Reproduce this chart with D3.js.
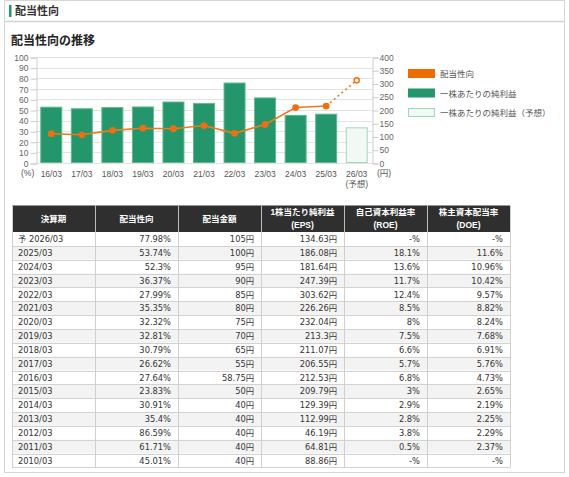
<!DOCTYPE html>
<html>
<head>
<meta charset="utf-8">
<script src="https://cdn.jsdelivr.net/npm/d3@7"></script>
<style>
  body { margin: 0; background: #fff; }
  svg text { font-family: "Liberation Sans", "Noto Sans CJK JP", sans-serif; }
  svg text.cell { font-family: "DejaVu Sans", "Noto Sans CJK JP", sans-serif; }
</style>
</head>
<body>
<div id="chart"></div>
<script>
// チャートのデータ
const periods = ["16/03", "17/03", "18/03", "19/03", "20/03", "21/03", "22/03", "23/03", "24/03", "25/03", "26/03"];
const payoutRatio = [27.64, 26.62, 30.79, 32.81, 32.32, 35.35, 27.99, 36.37, 52.3, 53.74, 77.98];
const epsValues = [212.53, 206.55, 211.07, 213.3, 232.04, 226.26, 303.62, 247.39, 181.64, 186.08, 134.63];
const leftTicks = [0, 10, 20, 30, 40, 50, 60, 70, 80, 90, 100];
const rightTicks = [0, 50, 100, 150, 200, 250, 300, 350, 400];
const legendLabels = ["配当性向", "一株あたりの純利益", "一株あたりの純利益（予想）"];

// 表のデータ
const tableHeaders = [["決算期"], ["配当性向"], ["配当金額"], ["1株当たり純利益", "(EPS)"], ["自己資本利益率", "(ROE)"], ["株主資本配当率", "(DOE)"]];
const tPeriods = ["予 2026/03", "2025/03", "2024/03", "2023/03", "2022/03", "2021/03", "2020/03", "2019/03", "2018/03", "2017/03", "2016/03", "2015/03", "2014/03", "2013/03", "2012/03", "2011/03", "2010/03"];
const tPayout = ["77.98%", "53.74%", "52.3%", "36.37%", "27.99%", "35.35%", "32.32%", "32.81%", "30.79%", "26.62%", "27.64%", "23.83%", "30.91%", "35.4%", "86.59%", "61.71%", "45.01%"];
const tDividend = ["105円", "100円", "95円", "90円", "85円", "80円", "75円", "70円", "65円", "55円", "58.75円", "50円", "40円", "40円", "40円", "40円", "40円"];
const tEps = ["134.63円", "186.08円", "181.64円", "247.39円", "303.62円", "226.26円", "232.04円", "213.3円", "211.07円", "206.55円", "212.53円", "209.79円", "129.39円", "112.99円", "46.19円", "64.81円", "88.86円"];
const tRoe = ["-%", "18.1%", "13.6%", "11.7%", "12.4%", "8.5%", "8%", "7.5%", "6.6%", "5.7%", "6.8%", "3%", "2.9%", "2.8%", "3.8%", "0.5%", "-%"];
const tDoe = ["-%", "11.6%", "10.96%", "10.42%", "9.57%", "8.82%", "8.24%", "7.68%", "6.91%", "5.76%", "4.73%", "2.65%", "2.19%", "2.25%", "2.29%", "2.37%", "-%"];

const width = 569;
const height = 477;

const svg = d3.select("#chart").append("svg")
    .attr("width", width)
    .attr("height", height);

// 外枠
svg.append("rect")
    .attr("x", 4.5).attr("y", 0.5)
    .attr("width", 560).attr("height", 472)
    .attr("fill", "#fff")
    .attr("stroke", "#d6d6d6");

// 見出し
svg.append("rect")
    .attr("x", 9).attr("y", 5)
    .attr("width", 2.5).attr("height", 12)
    .attr("fill", "#1f9a6c");
svg.append("text")
    .attr("x", 15).attr("y", 15)
    .style("font-size", "11px")
    .style("font-weight", "bold")
    .style("fill", "#333")
    .text("配当性向");
svg.append("line")
    .attr("x1", 5).attr("x2", 564)
    .attr("y1", 21.5).attr("y2", 21.5)
    .attr("stroke", "#d4d4d4")
    .attr("stroke-width", 1.5);

svg.append("text")
    .attr("x", 11).attr("y", 45)
    .style("font-size", "12px")
    .style("font-weight", "bold")
    .style("fill", "#222")
    .text("配当性向の推移");

// チャート領域
const plot = {left: 36, right: 372, top: 57, bottom: 163};

const x = d3.scaleBand()
    .domain(periods)
    .range([plot.left, plot.right])
    .paddingInner(0.28)
    .paddingOuter(0.14);

const yLeft = d3.scaleLinear().domain([0, 100]).range([plot.bottom, plot.top]);
const yRight = d3.scaleLinear().domain([0, 400]).range([plot.bottom, plot.top]);

// 横の格線
svg.append("g")
    .selectAll("line")
    .data(leftTicks)
    .join("line")
    .attr("x1", plot.left).attr("x2", plot.right)
    .attr("y1", d => Math.round(yLeft(d)) + 0.5)
    .attr("y2", d => Math.round(yLeft(d)) + 0.5)
    .attr("stroke", "#e3e3e3");

// 左軸
const leftAxis = svg.append("g")
    .attr("transform", `translate(${plot.left + 0.5},0.5)`)
    .call(d3.axisLeft(yLeft).tickValues(leftTicks).tickSize(6).tickPadding(2));
leftAxis.select(".domain").attr("stroke", "#ccc");
leftAxis.selectAll(".tick line").attr("stroke", "#ccc");
leftAxis.selectAll(".tick text")
    .style("font-size", "8.5px")
    .style("fill", "#666")
    .attr("dy", "0.32em");

// 右軸
const rightAxis = svg.append("g")
    .attr("transform", `translate(${plot.right + 0.5},0.5)`)
    .call(d3.axisRight(yRight).tickValues(rightTicks).tickSize(6).tickPadding(1));
rightAxis.select(".domain").attr("stroke", "#ccc");
rightAxis.selectAll(".tick line").attr("stroke", "#ccc");
rightAxis.selectAll(".tick text")
    .style("font-size", "8.5px")
    .style("fill", "#666")
    .attr("dy", "0.32em");

// 棒グラフ (EPS)
const last = periods.length - 1;
svg.append("g")
    .selectAll("rect")
    .data(epsValues)
    .join("rect")
    .attr("x", (d, i) => x(periods[i]) + 0.5)
    .attr("y", d => yRight(d) + 0.5)
    .attr("width", x.bandwidth() - 1)
    .attr("height", d => yRight(0) - yRight(d) - 1)
    .attr("fill", (d, i) => i === last ? "#f1f9f5" : "#23966c")
    .attr("stroke", (d, i) => i === last ? "#9fd6bd" : "#5cb893")
    .attr("stroke-width", 1);

// 配当性向の線
const cx = p => x(p) + x.bandwidth() / 2;
const line = d3.line()
    .x((d, i) => cx(periods[i]))
    .y(d => yLeft(d));

svg.append("path")
    .datum(payoutRatio.slice(0, last))
    .attr("d", line)
    .attr("fill", "none")
    .attr("stroke", "#ef7a1a")
    .attr("stroke-width", 1.6);

svg.append("line")
    .attr("x1", cx(periods[last - 1])).attr("y1", yLeft(payoutRatio[last - 1]))
    .attr("x2", cx(periods[last])).attr("y2", yLeft(payoutRatio[last]))
    .attr("stroke", "#ef7a1a")
    .attr("stroke-width", 1.6)
    .attr("stroke-dasharray", "2,3");

svg.append("g")
    .selectAll("circle")
    .data(payoutRatio)
    .join("circle")
    .attr("cx", (d, i) => cx(periods[i]))
    .attr("cy", d => yLeft(d))
    .attr("r", (d, i) => i === last ? 2.6 : 3.4)
    .attr("fill", (d, i) => i === last ? "#fff" : "#ef6f0f")
    .attr("stroke", "#ef6f0f")
    .attr("stroke-width", (d, i) => i === last ? 1.4 : 0);

// x軸ラベル
svg.append("g")
    .selectAll("text")
    .data(periods)
    .join("text")
    .attr("x", d => cx(d))
    .attr("y", 177)
    .attr("text-anchor", "middle")
    .style("font-size", "8.5px")
    .style("fill", "#555")
    .text(d => d);
svg.append("text")
    .attr("x", cx(periods[last])).attr("y", 187)
    .attr("text-anchor", "middle")
    .style("font-size", "8.5px")
    .style("fill", "#555")
    .text("(予想)");
svg.append("text")
    .attr("x", 21).attr("y", 176)
    .style("font-size", "8.5px")
    .style("fill", "#555")
    .text("(%)");
svg.append("text")
    .attr("x", 377).attr("y", 176)
    .style("font-size", "8.5px")
    .style("fill", "#555")
    .text("(円)");

// 凡例
const legend = svg.append("g").attr("transform", "translate(408,69)");
const legendFill = ["#ee6b00", "#23966c", "#f1f9f5"];
const legendStroke = ["#ee6b00", "#23966c", "#9fd6bd"];
legend.selectAll("rect")
    .data(legendLabels)
    .join("rect")
    .attr("x", 0.5)
    .attr("y", (d, i) => i * 19.5 + 0.5)
    .attr("width", 26)
    .attr("height", 8)
    .attr("fill", (d, i) => legendFill[i])
    .attr("stroke", (d, i) => legendStroke[i]);
legend.selectAll("text")
    .data(legendLabels)
    .join("text")
    .attr("x", 32)
    .attr("y", (d, i) => i * 19.5 + 8)
    .style("font-size", "8.5px")
    .style("fill", "#555")
    .text(d => d);

// 表
const tableX = 12;
const colW = 83;
const headTop = 205.5;
const headH = 26.5;
const rowH = 13.85;
const columns = [tPeriods, tPayout, tDividend, tEps, tRoe, tDoe];

const rowScale = d3.scaleBand()
    .domain(tPeriods)
    .range([headTop + headH, headTop + headH + rowH * tPeriods.length]);

const table = svg.append("g");

table.append("rect")
    .attr("x", tableX).attr("y", headTop)
    .attr("width", colW * 6).attr("height", headH)
    .attr("fill", "#2f2f2f");

table.selectAll(".row-bg")
    .data(tPeriods)
    .join("rect")
    .attr("class", "row-bg")
    .attr("x", tableX)
    .attr("y", d => rowScale(d))
    .attr("width", colW * 6)
    .attr("height", rowH)
    .attr("fill", (d, i) => i % 2 === 1 ? "#f3f3f3" : "#fff");

// 横線
table.selectAll(".hline")
    .data(tPeriods)
    .join("line")
    .attr("class", "hline")
    .attr("x1", tableX).attr("x2", tableX + colW * 6)
    .attr("y1", d => Math.round(rowScale(d) + rowH) + 0.5)
    .attr("y2", d => Math.round(rowScale(d) + rowH) + 0.5)
    .attr("stroke", "#d2d2d2");

// 縦線
table.selectAll(".vline")
    .data(d3.range(7))
    .join("line")
    .attr("class", "vline")
    .attr("x1", i => tableX + i * colW + 0.5)
    .attr("x2", i => tableX + i * colW + 0.5)
    .attr("y1", headTop)
    .attr("y2", headTop + headH + rowH * tPeriods.length)
    .attr("stroke", "#cfcfcf");

table.selectAll(".vline-h")
    .data(d3.range(1, 6))
    .join("line")
    .attr("class", "vline-h")
    .attr("x1", i => tableX + i * colW + 0.5)
    .attr("x2", i => tableX + i * colW + 0.5)
    .attr("y1", headTop)
    .attr("y2", headTop + headH)
    .attr("stroke", "#bdbdbd");

// 見出しテキスト
tableHeaders.forEach((lines, c) => {
    const cxh = tableX + c * colW + colW / 2;
    lines.forEach((t, k) => {
        const yy = lines.length === 1 ? headTop + headH / 2 + 3.5 : headTop + 9.5 + k * 12.5;
        table.append("text")
            .attr("x", cxh).attr("y", yy)
            .attr("text-anchor", "middle")
            .style("font-size", "8.5px")
            .style("font-weight", "bold")
            .style("fill", "#fff")
            .text(t);
    });
});

// セルのテキスト
columns.forEach((col, c) => {
    table.append("g")
        .selectAll("text")
        .data(col)
        .join("text")
        .attr("class", "cell")
        .attr("x", c === 0 ? tableX + 6 : tableX + (c + 1) * colW - 7)
        .attr("y", (d, i) => rowScale(tPeriods[i]) + rowH / 2 + 3.2)
        .attr("text-anchor", c === 0 ? "start" : "end")
        .style("font-size", "8.3px")
        .style("fill", "#333")
        .text(d => d);
});
</script>
</body>
</html>
